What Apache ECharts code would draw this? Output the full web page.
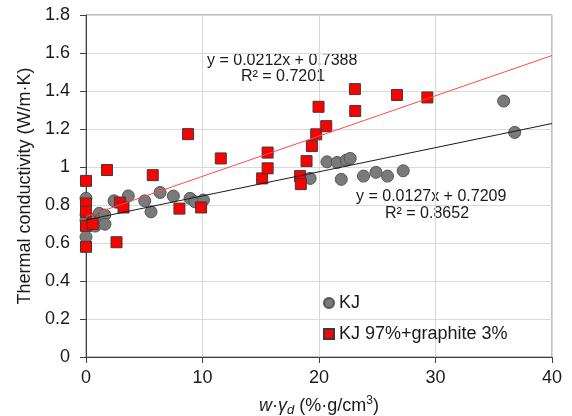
<!DOCTYPE html>
<html>
<head>
<meta charset="utf-8">
<script src="https://cdn.jsdelivr.net/npm/echarts@6/dist/echarts.min.js"></script>
<style>
html,body{margin:0;padding:0;background:#fff;}
#chart{width:572px;height:416px;}
</style>
</head>
<body>
<div id="chart"></div>
<script>
// ---- data ----
const kjX = [0, 0, 0, 0, 0.4, 0.80, 0.86, 1.14, 1.3, 1.61, 1.63, 2.41, 3.63, 5.04, 5.58, 6.36, 7.50, 8.93, 9.36, 10.08, 19.24, 20.68, 21.56, 21.91, 22.34, 22.68, 23.82, 24.89, 25.88, 27.23, 35.85, 36.8];
const kjY = [0.835, 0.75, 0.72, 0.632, 0.72, 0.689, 0.73, 0.756, 0.73, 0.747, 0.699, 0.822, 0.848, 0.822, 0.764, 0.866, 0.847, 0.835, 0.817, 0.826, 0.940, 1.027, 1.024, 0.935, 1.036, 1.045, 0.952, 0.972, 0.952, 0.980, 1.347, 1.182];
const grX = [0, 0, 0, 0, 0, 0.58, 1.80, 2.62, 2.92, 3.22, 5.73, 8.02, 8.76, 9.88, 11.57, 15.12, 15.59, 15.59, 18.38, 18.44, 18.93, 19.39, 19.76, 19.96, 20.62, 23.08, 23.11, 26.69, 29.3];
const grY = [0.927, 0.808, 0.764, 0.690, 0.580, 0.70, 0.984, 0.604, 0.813, 0.787, 0.957, 0.781, 1.173, 0.787, 1.045, 0.940, 1.076, 0.993, 0.952, 0.910, 1.031, 1.110, 1.172, 1.317, 1.215, 1.410, 1.295, 1.379, 1.366];
const seriesNames = ['KJ', 'KJ 97%+graphite 3%'];
const trendSlope = [0.0127, 0.0212];
const trendIntercept = [0.7209, 0.7388];
const trendR2 = ['0.8652', '0.7201'];
const xTicks = [0, 10, 20, 30, 40];
const yTicks = [0, 0.2, 0.4, 0.6, 0.8, 1, 1.2, 1.4, 1.6, 1.8];

const FONT = 'Liberation Sans';
const pairs = (xs, ys) => xs.map((x, i) => [x, ys[i]]);
const trend = (k) => [[xTicks[0], trendIntercept[k] + trendSlope[k] * xTicks[0]],
                      [xTicks[xTicks.length - 1], trendIntercept[k] + trendSlope[k] * xTicks[xTicks.length - 1]]];
const eqText = (k) => 'y = ' + trendSlope[k].toFixed(4) + 'x + ' + trendIntercept[k].toFixed(4);

const chart = echarts.init(document.getElementById('chart'), null, {renderer: 'canvas'});
const option = {
  animation: false,
  backgroundColor: '#fff',
  textStyle: {fontFamily: FONT, color: '#1a1a1a'},
  grid: {left: 86, right: 20, top: 15, bottom: 59, show: true, borderColor: '#808080', borderWidth: 1,
         containLabel: false, outerBoundsMode: 'none'},
  legend: {
    data: [{name: seriesNames[0], icon: 'circle'}, {name: seriesNames[1], icon: 'rect'}],
    orient: 'vertical', left: 318, top: 289, itemWidth: 10, itemHeight: 10, itemGap: 13,
    textStyle: {fontFamily: FONT, fontSize: 18, color: '#1a1a1a'}
  },
  xAxis: {
    type: 'value', min: xTicks[0], max: xTicks[xTicks.length - 1], interval: 10,
    axisLine: {lineStyle: {color: '#404040'}},
    axisTick: {show: true, length: 6, lineStyle: {color: '#404040'}},
    axisLabel: {fontFamily: FONT, fontSize: 18, color: '#1a1a1a', margin: 12},
    splitLine: {show: true, lineStyle: {color: '#d9d9d9', width: 1}},
    name: '{i|w}{n|·}{i|γ}{sub|d}{n| (%·g/cm}{sup|3}{n|)}',
    nameLocation: 'middle', nameGap: 38,
    nameTextStyle: {
      fontFamily: FONT, fontSize: 18, color: '#1a1a1a',
      rich: {
        n: {fontFamily: FONT, fontSize: 18, color: '#1a1a1a', lineHeight: 22},
        i: {fontFamily: FONT, fontSize: 18, fontStyle: 'italic', color: '#1a1a1a', lineHeight: 22},
        sub: {fontFamily: FONT, fontSize: 13, fontStyle: 'italic', color: '#1a1a1a', verticalAlign: 'bottom', lineHeight: 22},
        sup: {fontFamily: FONT, fontSize: 12, color: '#1a1a1a', verticalAlign: 'top', lineHeight: 22}
      }
    }
  },
  yAxis: {
    type: 'value', min: yTicks[0], max: yTicks[yTicks.length - 1], interval: 0.2,
    axisLine: {show: true, lineStyle: {color: '#404040'}},
    axisTick: {show: true, length: 6, lineStyle: {color: '#404040'}},
    axisLabel: {fontFamily: FONT, fontSize: 18, color: '#1a1a1a', margin: 16},
    splitLine: {show: true, lineStyle: {color: '#d9d9d9', width: 1}},
    name: 'Thermal conductivity (W/m·K)',
    nameLocation: 'middle', nameGap: 50, nameRotate: 90,
    nameTextStyle: {fontFamily: FONT, fontSize: 18, color: '#1a1a1a'}
  },
  series: [
    {
      name: seriesNames[0], type: 'scatter', data: pairs(kjX, kjY),
      symbol: 'circle', symbolSize: 12, z: 2,
      itemStyle: {color: '#7a7a7a', borderColor: '#555555', borderWidth: 1, opacity: 1}
    },
    {
      name: seriesNames[1], type: 'scatter', data: pairs(grX, grY),
      symbol: 'rect', symbolSize: 11, z: 3,
      itemStyle: {color: '#ff0000', borderColor: '#3a3a3a', borderWidth: 1, opacity: 1}
    },
    {
      name: 'trend KJ', type: 'line', data: trend(0), symbol: 'none', z: 4,
      lineStyle: {color: '#1a1a1a', width: 1}, silent: true
    },
    {
      name: 'trend graphite', type: 'line', data: trend(1), symbol: 'none', z: 4,
      lineStyle: {color: '#ff4a4a', width: 1}, silent: true
    }
  ],
  graphic: [
    {type: 'text', left: 207, top: 53, style: {text: eqText(1), font: '16px ' + FONT, fill: '#1a1a1a'}},
    {type: 'text', left: 241, top: 69, style: {text: 'R² = ' + trendR2[1], font: '16px ' + FONT, fill: '#1a1a1a'}},
    {type: 'text', left: 356, top: 189, style: {text: eqText(0), font: '16px ' + FONT, fill: '#1a1a1a'}},
    {type: 'text', left: 385, top: 206, style: {text: 'R² = ' + trendR2[0], font: '16px ' + FONT, fill: '#1a1a1a'}}
  ]
};
chart.setOption(option);
</script>
</body>
</html>
